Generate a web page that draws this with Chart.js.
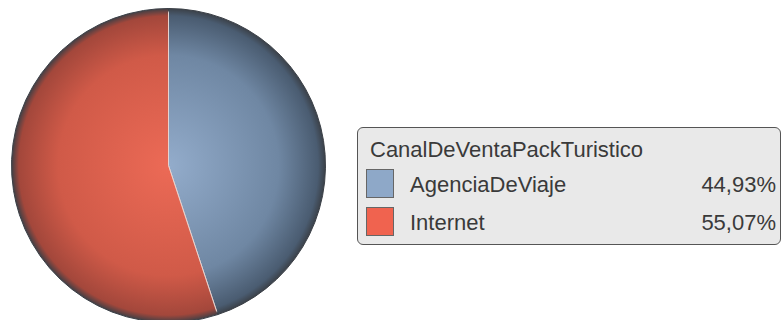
<!DOCTYPE html>
<html>
<head>
<meta charset="utf-8">
<script src="https://cdn.jsdelivr.net/npm/chart.js@4.4.1/dist/chart.umd.min.js"></script>
<style>
  html, body { margin: 0; padding: 0; background: #fff; width: 781px; height: 320px; overflow: hidden; }
  #pieWrap { position: absolute; left: 11px; top: 8px; width: 315px; height: 315px; }
  #legend {
    position: absolute; left: 357px; top: 127px; width: 422px; height: 116px;
    background: #e9e9e9; border: 1px solid #555; border-radius: 6px;
    font-family: "Liberation Sans", Arial, sans-serif; color: #3a3a3a; font-size: 22px;
  }
  #legend .title { position: absolute; left: 12px; top: 9px; }
  #legend .row { position: absolute; left: 8px; right: 4px; height: 30px; }
  #legend .swatch { position: absolute; left: 0; top: 0; width: 28px; height: 29px; border: 1px solid #666; box-sizing: border-box; }
  #legend .name { position: absolute; left: 44px; top: 3px; }
  #legend .value { position: absolute; right: 0; top: 3px; }
</style>
</head>
<body>
<div id="pieWrap"><canvas id="pieChart"></canvas></div>
<div id="legend"></div>
<script>
// Sales channel split for tour packages
const legendTitle = "CanalDeVentaPackTuristico";
const channels = ["AgenciaDeViaje", "Internet"];
const shares = [44.93, 55.07];
const swatchColors = ["#8ea8c8", "#f0634f"];

// center / mid / rim shades for each slice
const shades = [
  ["#93accb", "#6f87a3", "#4a5c71"],
  ["#ec6a56", "#d05a48", "#a3473b"]
];

function radialFill(chart, i) {
  const area = chart.chartArea;
  if (!area) return shades[i][1];
  const cx = (area.left + area.right) / 2;
  const cy = (area.top + area.bottom) / 2;
  const r = Math.min(area.right - area.left, area.bottom - area.top) / 2;
  const g = chart.ctx.createRadialGradient(cx, cy, 0, cx, cy, r);
  g.addColorStop(0, shades[i][0]);
  g.addColorStop(0.7, shades[i][1]);
  g.addColorStop(0.95, shades[i][2]);
  g.addColorStop(1, "#3a3f46");
  return g;
}

// light seam between slices, dark at the outer rim
function seamColor(chart) {
  const area = chart.chartArea;
  if (!area) return "#e6d3cf";
  const cx = (area.left + area.right) / 2;
  const cy = (area.top + area.bottom) / 2;
  const r = Math.min(area.right - area.left, area.bottom - area.top) / 2;
  const g = chart.ctx.createRadialGradient(cx, cy, 0, cx, cy, r);
  g.addColorStop(0, "#e6d3cf");
  g.addColorStop(0.97, "#e6d3cf");
  g.addColorStop(0.985, "#3a3f46");
  g.addColorStop(1, "#3a3f46");
  return g;
}

function renderPie() {
  const ctx = document.getElementById("pieChart").getContext("2d");
  new Chart(ctx, {
    type: "pie",
    data: {
      labels: channels,
      datasets: [{
        data: shares,
        backgroundColor: c => radialFill(c.chart, c.dataIndex),
        borderColor: c => seamColor(c.chart),
        borderWidth: 1
      }]
    },
    options: {
      responsive: true,
      maintainAspectRatio: false,
      animation: false,
      layout: { padding: 0 },
      plugins: {
        legend: { display: false },
        tooltip: { enabled: false }
      }
    }
  });
}

function fmt(v) {
  return v.toFixed(2).replace(".", ",") + "%";
}

function renderLegend() {
  const box = document.getElementById("legend");
  const title = document.createElement("div");
  title.className = "title";
  title.textContent = legendTitle;
  box.appendChild(title);
  channels.forEach((name, i) => {
    const row = document.createElement("div");
    row.className = "row";
    row.style.top = (41 + i * 38) + "px";
    row.innerHTML = '<div class="swatch"></div><div class="name"></div><div class="value"></div>';
    row.querySelector(".swatch").style.background = swatchColors[i];
    row.querySelector(".name").textContent = name;
    row.querySelector(".value").textContent = fmt(shares[i]);
    box.appendChild(row);
  });
}

document.addEventListener("DOMContentLoaded", () => {
  renderPie();
  renderLegend();
});
</script>
</body>
</html>
